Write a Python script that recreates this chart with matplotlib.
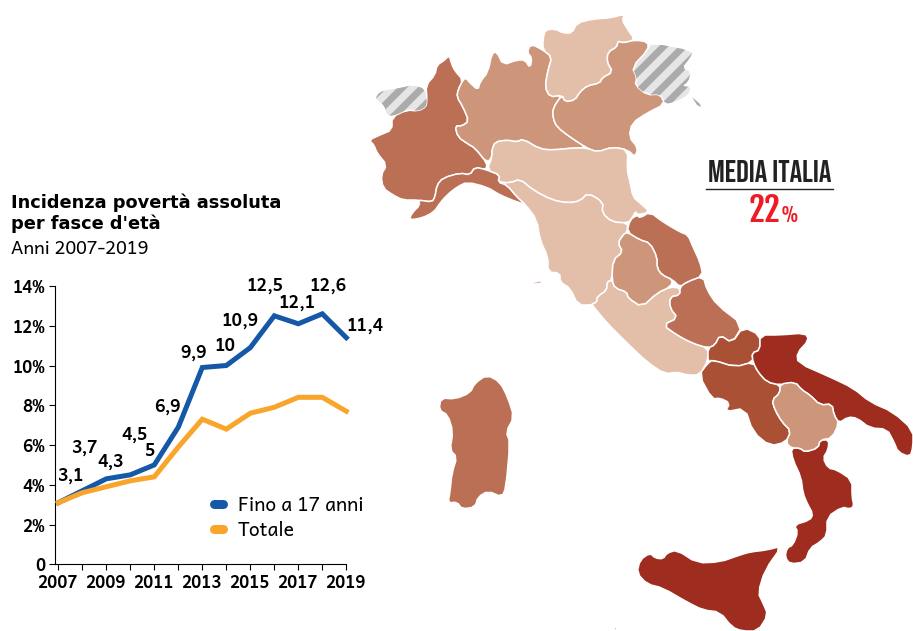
import matplotlib
matplotlib.use("Agg")
import matplotlib.pyplot as plt
from matplotlib.lines import Line2D
from matplotlib.patches import Polygon

# Dati del grafico
anni = [2007, 2008, 2009, 2010, 2011, 2012, 2013, 2014, 2015, 2016, 2017, 2018, 2019]
fino_17 = [3.1, 3.7, 4.3, 4.5, 5, 6.9, 9.9, 10, 10.9, 12.5, 12.1, 12.6, 11.4]
totale = [3.1, 3.6, 3.9, 4.2, 4.4, 5.9, 7.3, 6.8, 7.6, 7.9, 8.4, 8.4, 7.7]
y_ticks = [0, 2, 4, 6, 8, 10, 12, 14]
y_labels = ["0", "2%", "4%", "6%", "8%", "10%", "12%", "14%"]
x_ticks = [2007, 2009, 2011, 2013, 2015, 2017, 2019]

# spostamento delle etichette rispetto al punto (pixel)
label_dx = [12, 2, 4, 4, -5, -11, -9, -1, -10, -9, -1, 6, 19]
label_dy = [27, 43, 17, 40, 14, 20, 15, 20, 27, 30, 21, 28, 12]

# Contorni delle regioni (pixel dell'immagine)
valle_aosta = [(376, 97), (380, 92), (387, 90), (400, 88), (413, 85), (425, 89), (427, 100), (426, 107), (418, 111),
               (407, 110), (393, 116), (387, 115), (384, 105), (377, 100)]
friuli = [(652, 43), (693, 51), (690, 58), (682, 68), (691, 72), (688, 82), (682, 86), (691, 87), (688, 95), (675, 102),
          (665, 104), (660, 94), (647, 95), (635, 85), (637, 78), (632, 67), (648, 50)]
trieste = [(692, 97), (700, 104), (701, 107), (697, 105)]
piemonte = [(449, 55), (452, 65), (455, 71), (463, 80), (458, 90), (457, 97), (463, 107), (469, 121), (462, 126),
            (455, 126), (458, 137), (468, 144), (475, 148), (487, 163), (486, 170), (475, 167), (470, 175), (460, 173),
            (443, 178), (437, 185), (435, 197), (432, 202), (418, 200), (403, 200), (393, 195), (383, 188), (381, 175),
            (387, 165), (377, 153), (374, 145), (369, 140), (380, 135), (392, 130), (392, 117), (407, 110), (418, 111),
            (426, 107), (427, 100), (426, 85), (435, 75), (437, 65), (445, 60)]
liguria = [(487, 170), (500, 175), (498, 182), (507, 185), (517, 197), (525, 204), (517, 202), (500, 195), (487, 187),
           (467, 182), (457, 187), (447, 195), (440, 203), (434, 212), (422, 218), (409, 220), (412, 213), (420, 205),
           (418, 200), (432, 202), (435, 197), (437, 185), (443, 178), (460, 173), (470, 175), (475, 167)]
lombardia = [(466, 78), (470, 83), (478, 90), (480, 82), (488, 72), (492, 53), (497, 52), (503, 65), (517, 60), (525, 60),
             (530, 68), (532, 58), (527, 52), (531, 44), (543, 50), (552, 57), (548, 70), (545, 87), (550, 97), (562, 95),
             (553, 108), (553, 118), (557, 127), (570, 137), (587, 148), (573, 148), (553, 150), (540, 149), (523, 139),
             (517, 142), (507, 140), (495, 142), (492, 150), (492, 157), (487, 163), (475, 148), (468, 144), (458, 137),
             (455, 126), (462, 126), (469, 121), (463, 107), (457, 97), (458, 90), (463, 80)]
trentino = [(543, 40), (545, 30), (555, 29), (563, 33), (572, 33), (577, 23), (593, 19), (610, 18), (625, 14), (622, 20),
            (628, 30), (635, 40), (623, 43), (618, 41), (617, 47), (608, 52), (607, 62), (613, 72), (602, 78), (600, 83),
            (587, 86), (580, 92), (575, 100), (565, 102), (562, 95), (550, 97), (545, 87), (548, 70), (552, 57), (543, 50)]
veneto = [(635, 40), (648, 42), (648, 50), (632, 67), (637, 78), (635, 85), (647, 95), (660, 94), (665, 104), (647, 113),
          (632, 123), (629, 137), (638, 148), (635, 157), (628, 150), (613, 147), (597, 152), (587, 148), (570, 137),
          (557, 127), (553, 118), (553, 108), (562, 95), (565, 102), (575, 100), (580, 92), (587, 86), (600, 83),
          (602, 78), (613, 72), (607, 62), (608, 52), (617, 47), (618, 41), (623, 43)]
emilia = [(487, 170), (492, 157), (492, 150), (495, 142), (507, 140), (517, 142), (523, 139), (540, 149), (553, 150),
          (573, 148), (587, 148), (597, 152), (613, 147), (628, 150), (627, 170), (630, 182), (633, 197), (640, 203),
          (650, 212), (637, 215), (636, 211), (632, 218), (628, 223), (612, 222), (602, 213), (603, 202), (588, 193),
          (580, 201), (568, 203), (552, 200), (533, 190), (520, 179), (510, 183), (498, 182), (500, 175)]
toscana = [(498, 182), (510, 183), (520, 179), (533, 190), (552, 200), (568, 203), (580, 201), (588, 193), (603, 202),
           (602, 213), (612, 222), (628, 223), (627, 232), (623, 235), (618, 243), (623, 252), (613, 260), (612, 280),
           (607, 282), (607, 290), (597, 297), (597, 302), (592, 305), (578, 305), (570, 288), (560, 282), (560, 273),
           (548, 272), (548, 257), (540, 240), (537, 220), (525, 204), (517, 197), (507, 185)]
elba = [(530, 283), (542, 280), (542, 284), (530, 284)]
marche = [(630, 220), (637, 215), (640, 218), (650, 212), (663, 222), (680, 232), (688, 235), (693, 247), (700, 262),
          (703, 276), (687, 282), (680, 287), (673, 280), (662, 275), (657, 268), (657, 257), (650, 243), (640, 240),
          (627, 232)]
umbria = [(627, 232), (640, 240), (650, 243), (657, 257), (657, 268), (662, 275), (673, 280), (670, 287), (657, 293),
          (642, 307), (628, 298), (627, 292), (615, 288), (612, 280), (613, 260), (623, 252), (618, 243), (623, 235)]
lazio = [(592, 304), (597, 302), (597, 297), (607, 290), (607, 282), (612, 280), (615, 288), (627, 292), (628, 298),
         (642, 307), (657, 293), (670, 287), (680, 288), (680, 295), (670, 297), (670, 308), (678, 318), (663, 325),
         (677, 335), (692, 343), (708, 348), (708, 360), (700, 375), (687, 375), (677, 372), (665, 374), (647, 362),
         (627, 343), (607, 323), (593, 306)]
abruzzo = [(680, 287), (687, 282), (703, 276), (707, 290), (717, 305), (743, 325), (732, 343), (720, 335), (715, 345),
           (708, 348), (692, 343), (677, 335), (663, 325), (678, 318), (670, 308), (670, 297), (680, 295)]
molise = [(743, 327), (760, 335), (760, 350), (752, 353), (753, 362), (735, 367), (713, 360), (708, 362), (708, 348),
          (715, 345), (720, 335), (732, 343)]
campania = [(708, 363), (713, 360), (735, 367), (753, 362), (758, 372), (767, 382), (780, 385), (780, 393), (772, 400),
            (775, 410), (782, 422), (791, 431), (786, 442), (770, 446), (753, 432), (745, 408), (725, 412), (730, 403),
            (720, 398), (712, 399), (699, 375)]
puglia = [(760, 335), (780, 335), (805, 333), (809, 340), (797, 353), (798, 363), (830, 377), (853, 388), (870, 402),
          (893, 412), (913, 430), (913, 447), (910, 457), (898, 452), (894, 442), (887, 429), (870, 428), (857, 418),
          (848, 417), (839, 423), (834, 415), (832, 404), (820, 405), (810, 395), (802, 390), (795, 382), (780, 385),
          (767, 382), (758, 372), (753, 362), (752, 353), (760, 350)]
basilicata = [(780, 384), (795, 382), (802, 390), (810, 395), (820, 405), (832, 404), (834, 415), (839, 423), (832, 438),
              (820, 440), (818, 448), (805, 452), (800, 448), (791, 448), (786, 442), (791, 431), (782, 422), (775, 410),
              (772, 400), (780, 393)]
calabria = [(791, 448), (800, 448), (805, 452), (818, 448), (820, 440), (829, 440), (828, 450), (823, 458), (828, 468),
            (837, 470), (852, 480), (852, 497), (854, 506), (850, 509), (842, 507), (827, 517), (827, 535), (820, 542),
            (810, 548), (805, 562), (790, 564), (785, 557), (787, 548), (793, 545), (798, 532), (794, 525), (810, 520),
            (813, 514), (807, 503), (803, 493), (801, 477), (793, 460)]
sicilia = [(782, 546), (767, 550), (750, 552), (740, 555), (720, 562), (697, 563), (677, 550), (667, 553), (663, 559),
           (655, 558), (650, 553), (640, 560), (637, 573), (647, 584), (663, 588), (687, 602), (703, 610), (720, 612),
           (732, 627), (742, 631), (758, 631), (768, 615), (763, 603), (758, 593), (765, 570)]
sardegna = [(487, 375), (500, 382), (508, 398), (514, 417), (506, 432), (510, 442), (506, 487), (502, 497), (488, 491),
            (478, 497), (475, 507), (462, 509), (457, 502), (448, 503), (450, 492), (452, 473), (457, 457), (450, 450),
            (453, 432), (448, 415), (439, 410), (441, 398), (455, 399), (470, 393), (475, 383)]
lampedusa = [(614, 627), (617, 628), (617, 630), (615, 630)]

font_testo = ["Andika", "Lato"]
font_stretto = ["Bebas Neue", "Liberation Sans"]
font_numero = ["Fjalla One", "Liberation Sans"]


def arrotonda(punti):
    # taglia gli angoli del contorno, per non avere spigoli
    nuovi = []
    for i, (x0, y0) in enumerate(punti):
        x1, y1 = punti[(i + 1) % len(punti)]
        nuovi.append((0.75 * x0 + 0.25 * x1, 0.75 * y0 + 0.25 * y1))
        nuovi.append((0.25 * x0 + 0.75 * x1, 0.25 * y0 + 0.75 * y1))
    return nuovi


fig = plt.figure(figsize=(9.13, 6.31), dpi=100)

# Mappa su tutta la figura, in coordinate pixel
mappa = fig.add_axes([0, 0, 1, 1])
mappa.set_xlim(0, 913)
mappa.set_ylim(631, 0)
mappa.axis("off")

# regioni senza dati: tratteggio a righe
for contorno in [valle_aosta, friuli]:
    base = Polygon(arrotonda(contorno), closed=True, facecolor="#e6e6e6", edgecolor="none")
    mappa.add_patch(base)
    for x0 in range(340, 820, 20):
        riga, = mappa.plot([x0, x0 + 130], [130, 0], color="#ababab", lw=5, solid_capstyle="butt")
        riga.set_clip_path(base)
mappa.add_patch(Polygon(trieste, closed=True, facecolor="#ababab", edgecolor="none"))

chiaro = "#e3bfaa"
medio = "#cd9579"
scuro = "#bb6f54"
forte = "#a95035"
rosso = "#9e2d1f"
for contorno, colore in [(piemonte, scuro), (liguria, scuro), (lombardia, medio), (trentino, chiaro), (veneto, medio),
                         (emilia, chiaro), (toscana, chiaro), (elba, chiaro), (lazio, chiaro), (marche, scuro),
                         (umbria, medio), (abruzzo, scuro), (molise, forte), (campania, forte), (puglia, rosso),
                         (calabria, rosso), (basilicata, medio), (sicilia, rosso), (sardegna, scuro),
                         (lampedusa, rosso)]:
    mappa.add_patch(Polygon(arrotonda(contorno), closed=True, facecolor=colore, edgecolor="white", lw=1.1,
                            joinstyle="round"))

# Media Italia
mappa.text(769.5, 182.5, "MEDIA ITALIA", family=font_stretto, fontsize=22.5, color="#222222", ha="center",
           va="baseline")
mappa.plot([706, 833], [188.5, 188.5], color="#222222", lw=1)
mappa.text(780, 222, "22", family=font_numero, fontsize=24, color="#ed1c24", ha="right", va="baseline")
mappa.text(781, 222, "%", family=font_numero, fontsize=14, color="#ed1c24", ha="left", va="baseline")

# Titoli
mappa.text(11, 208, "Incidenza povertà assoluta", family="DejaVu Sans", fontweight="bold", fontsize=12.8,
           color="black", va="baseline")
mappa.text(11, 229, "per fasce d'età", family="DejaVu Sans", fontweight="bold", fontsize=12.8,
           color="black", va="baseline")
mappa.text(11, 254, "Anni 2007-2019", family=font_testo, fontsize=13.2, color="black", va="baseline")

# Grafico a linee
ax = fig.add_axes([55.3 / 913, (631 - 564.3) / 631, 291 / 913, 278.3 / 631])
ax.patch.set_alpha(0)
ax.plot(anni, fino_17, color="#1558a8", lw=3.6, solid_joinstyle="miter", clip_on=False, zorder=3)
ax.plot(anni, totale, color="#f9a52c", lw=3.6, solid_joinstyle="miter", clip_on=False, zorder=4)
ax.set_xlim(2006.875, 2019)
ax.set_ylim(0, 14)
ax.spines["top"].set_visible(False)
ax.spines["right"].set_visible(False)
ax.set_yticks(y_ticks)
ax.set_yticklabels(y_labels, family=font_testo, fontweight="bold", fontsize=12)
ax.set_xticks(anni)
ax.set_xticklabels([str(a) if a in x_ticks else "" for a in anni], family=font_testo, fontweight="bold", fontsize=12)
ax.tick_params(axis="both", length=4.5, width=0.8, pad=2.5)

for anno, valore, dx, dy in zip(anni, fino_17, label_dx, label_dy):
    ax.annotate(str(valore).replace(".", ","), (anno, valore), xytext=(dx, dy), textcoords="offset pixels",
                ha="center", va="center", family=font_testo, fontweight="bold", fontsize=12.5, color="black")

legenda = [Line2D([], [], color="#1558a8", lw=6.5, solid_capstyle="round"),
           Line2D([], [], color="#f9a52c", lw=6.5, solid_capstyle="round")]
ax.legend(legenda, ["Fino a 17 anni", "Totale"], loc="lower left", bbox_to_anchor=(0.544, 0.085), frameon=False,
          prop={"family": font_testo, "size": 13.9, "style": "normal"}, handlelength=0.5, handletextpad=0.75,
          labelspacing=0.25, borderaxespad=0, borderpad=0)

fig.savefig("out.png", dpi=100)
